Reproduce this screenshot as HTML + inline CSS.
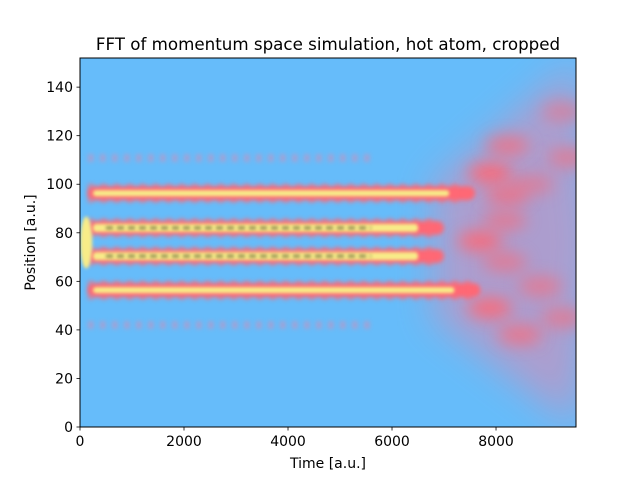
<!DOCTYPE html>
<html><head><meta charset="utf-8"><style>
body{margin:0;background:#fff;}
svg text{font-family:"DejaVu Sans","Liberation Sans",sans-serif;fill:#000;}
</style></head><body>
<svg id="chart" width="640" height="480" viewBox="0 0 640 480" xmlns="http://www.w3.org/2000/svg">
<defs>
<filter id="b1" filterUnits="userSpaceOnUse" x="0" y="0" width="640" height="480"><feGaussianBlur stdDeviation="2.5"/></filter>
<filter id="b2" filterUnits="userSpaceOnUse" x="0" y="0" width="640" height="480"><feGaussianBlur stdDeviation="1.5"/></filter>
<filter id="b5" filterUnits="userSpaceOnUse" x="0" y="0" width="640" height="480"><feGaussianBlur stdDeviation="2.2"/></filter>
<filter id="b3" filterUnits="userSpaceOnUse" x="0" y="0" width="640" height="480"><feGaussianBlur stdDeviation="8"/></filter>
<filter id="b4" filterUnits="userSpaceOnUse" x="0" y="0" width="640" height="480"><feGaussianBlur stdDeviation="18"/></filter>
<clipPath id="clip"><rect x="80" y="58" width="496" height="369"/></clipPath>
</defs>
<text x="328" y="50" font-size="16.7" text-anchor="middle">FFT of momentum space simulation, hot atom, cropped</text>
<g id="plot" clip-path="url(#clip)">
<rect x="80" y="58" width="496" height="369" fill="#66bcfa"/>
</g>
<rect x="80" y="58" width="496" height="369" fill="none" stroke="#000" stroke-width="1"/>
<g id="axes"></g>
<text x="328" y="468" font-size="14" text-anchor="middle">Time [a.u.]</text>
<text transform="translate(35,242.5) rotate(-90)" font-size="14" text-anchor="middle">Position [a.u.]</text>
</svg>
<script>
const xTicks=[0,2000,4000,6000,8000];
const yTicks=[0,20,40,60,80,100,120,140];
const bandPos=[110.8,96.3,82,70.4,56.4,42];
const bandEnd=[5600,7600,7000,7000,7700,5600];
const bandLevel=[0.3,0.75,1,1,0.75,0.3];
const blobT=[7885,8210,8210,7690,8170,8170,8850,7880,8460,9420,9300,9300,8700];
const blobP=[104.6,116,95.5,76.6,85,68,58,49,38,111,130,45,100];
const blobA=[0.95,0.7,0.7,0.9,0.6,0.6,0.6,0.9,0.7,0.6,0.5,0.6,0.5];
const X0=80,X1=576,Y0=427,Y1=58,TMAX=9538,PMAX=152;
const xs=t=>X0+(t/TMAX)*(X1-X0);
const ys=p=>Y0-(p/PMAX)*(Y0-Y1);
const NS="http://www.w3.org/2000/svg";
function mk(tag,attrs,parent){const e=document.createElementNS(NS,tag);for(const k in attrs)e.setAttribute(k,attrs[k]);parent.appendChild(e);return e;}
const plot=document.getElementById('plot');
const axes=document.getElementById('axes');
const fan=mk('polygon',{points:[[xs(6800),ys(100)],[xs(9538),ys(150)],[xs(9900),ys(75)],[xs(9538),ys(0)],[xs(6800),ys(45)]].map(p=>p.join(',')).join(' '),fill:'#b09ccc',opacity:0.95,filter:'url(#b4)'},plot);


for(let i=0;i<blobT.length;i++){
  const e=mk('ellipse',{cx:xs(blobT[i]),cy:ys(blobP[i]),rx:22,ry:10,fill:'#ff6874',opacity:blobA[i],filter:'url(#b3)'},plot);
  
  
}
for(let i=0;i<bandPos.length;i++){
  const y=ys(bandPos[i]),L=bandLevel[i],x0=xs(150),x1=xs(bandEnd[i]);
  const g=mk('g',{},plot);
  
  
  if(L<0.5){
    mk('line',{x1:x0,y1:y,x2:x1,y2:y,stroke:'#d88ab4','stroke-width':8,'stroke-dasharray':'6 6',opacity:0.5,filter:'url(#b5)'},g);
    continue;
  }
  mk('rect',{x:x0,y:y-7,width:x1-x0,height:14,rx:7,fill:'#ff6874',filter:'url(#b1)'},g);
  mk('line',{x1:x0,y1:y,x2:x1-10,y2:y,stroke:'#ff6874','stroke-width':19,'stroke-dasharray':'6 7',opacity:0.55,filter:'url(#b1)'},g);
  const yw=L>=1?8:6;
  mk('rect',{x:xs(250),y:y-yw/2,width:xs(bandEnd[i]-500)-xs(250),height:yw,rx:3,fill:'#f8ec88',filter:'url(#b2)'},g);
  if(L>=1){
    mk('line',{x1:xs(500),y1:y,x2:xs(5600),y2:y,stroke:'#3b3a22','stroke-width':3,'stroke-dasharray':'7 4',opacity:0.55,filter:'url(#b2)'},g);
  }
}
const st=mk('ellipse',{cx:xs(120),cy:ys(76),rx:6,ry:26,fill:'#f8ec88',filter:'url(#b2)'},plot);


xTicks.forEach(t=>{
  const x=xs(t);
  const l=mk('line',{x1:x,y1:427,x2:x,y2:430.5,stroke:'#000','stroke-width':0.8},axes);
  
  
  const tx=mk('text',{x:x,y:446,'font-size':14,'text-anchor':'middle'},axes);tx.textContent=t;
  
  
});
yTicks.forEach(p=>{
  const y=ys(p);
  const l=mk('line',{x1:76.5,y1:y,x2:80,y2:y,stroke:'#000','stroke-width':0.8},axes);
  
  
  const tx=mk('text',{x:73,y:y+5,'font-size':14,'text-anchor':'end'},axes);tx.textContent=p;
  
  
});
</script>
</body></html>
